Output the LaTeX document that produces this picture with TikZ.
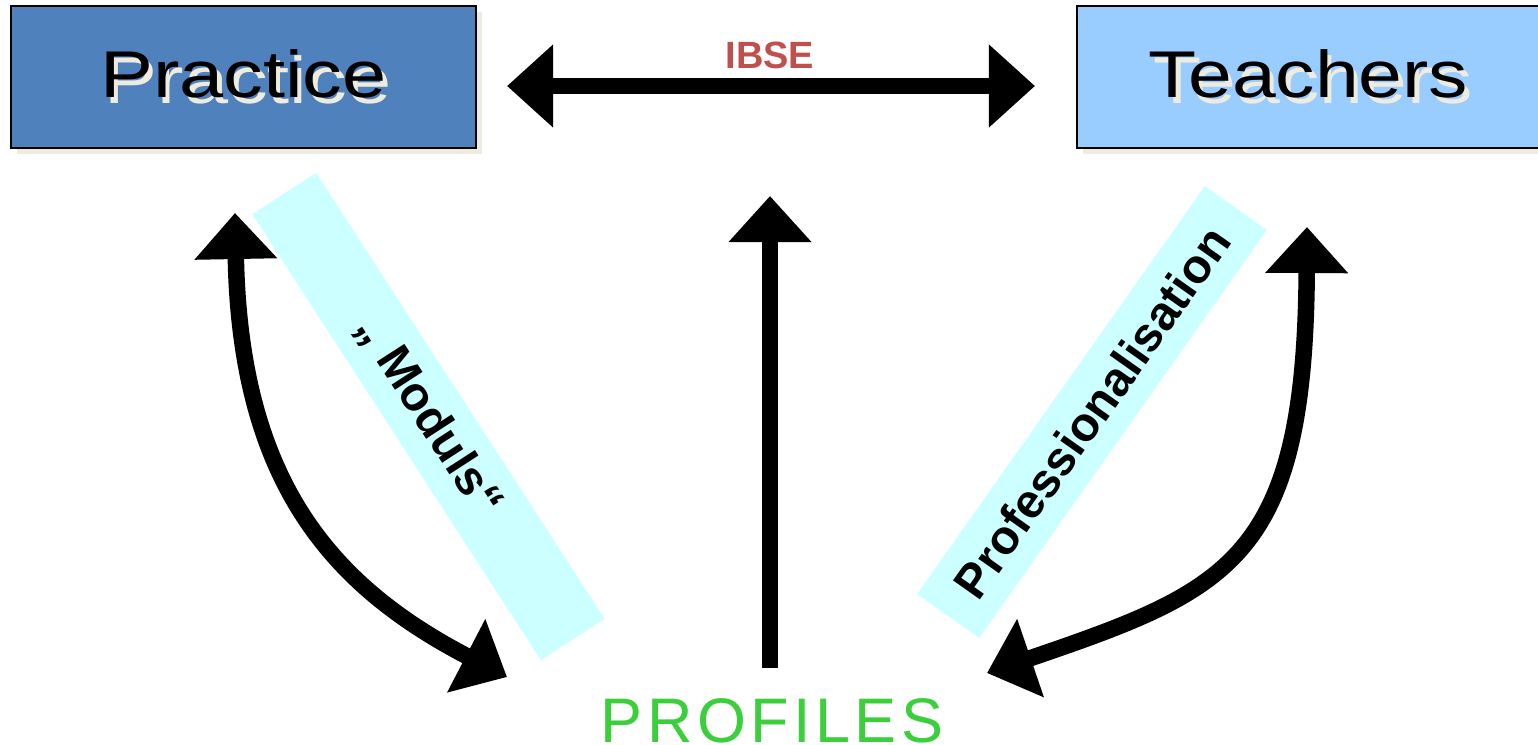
\documentclass[tikz,border=0pt]{standalone}
\usepackage{graphicx}
\usepackage{fontspec}
\setmainfont{Liberation Sans}
\usetikzlibrary{arrows.meta,shadows}
\definecolor{pracblue}{HTML}{4F81BD}
\definecolor{teachblue}{HTML}{99CCFF}
\definecolor{barcyan}{HTML}{CCFFFF}
\definecolor{ibsered}{HTML}{C0504D}
\definecolor{profgreen}{HTML}{3CCF3C}
\definecolor{shadowbeige}{HTML}{EEECE1}
\newcommand{\shadowtext}[1]{\makebox[0pt][l]{\hspace{0.045cm}\raisebox{-0.055cm}{\textcolor{shadowbeige}{#1}}}#1}
\tikzset{
  topbox/.style={rectangle, draw=black, line width=0.6pt, minimum height=1.42cm, inner sep=0pt,
    font=\fontsize{18.8}{22}\selectfont,
    drop shadow={shadow xshift=0.06cm, shadow yshift=-0.06cm, fill=shadowbeige, opacity=1}},
  bar/.style={rectangle, fill=barcyan, inner sep=0pt, minimum height=0.76cm,
    font=\fontsize{13.6}{16}\selectfont\bfseries},
  bigarrow/.style={line width=0.165cm, -{Triangle[length=0.46cm, width=0.8cm]}},
  twoarrow/.style={line width=0.165cm, {Triangle[length=0.46cm, width=0.8cm]}-{Triangle[length=0.46cm, width=0.8cm]}}
}
\begin{document}
\begin{tikzpicture}[x=0.01cm, y=-0.01cm]
\useasboundingbox (0,0) rectangle (1538,745);
% label bars
\node [bar, rotate=-57.1, minimum width=5.31cm](ModBar) at (428.5,416.5){„ Moduls“};
\node [bar, rotate=54.8, minimum width=4.99cm](ProfBar) at (1092,412){Professionalisation};
% boxes and texts
\node [topbox, fill=pracblue, minimum width=4.65cm](Prac) at (243.5,77){\shadowtext{\scalebox{1.2}[1]{Practice}}};
\node [topbox, fill=teachblue, minimum width=4.63cm](Teach) at (1308.5,77){\shadowtext{\scalebox{1.19}[1]{Teachers}}};
\node [text=ibsered, font=\fontsize{10.8}{13}\selectfont\bfseries](IBSE) at (770,55){IBSE};
\node [text=profgreen, anchor=base, font=\fontsize{17.9}{21}\selectfont\addfontfeature{LetterSpace=7}](Prof) at (772,742){PROFILES};
% arrows
\coordinate (hL) at (507,86);
\coordinate (hR) at (1035,86);
\coordinate (vB) at (770,668);
\coordinate (vT) at (770,196);
\coordinate (lT) at (235,213);
\coordinate (lB) at (507,677);
\coordinate (rT) at (1307,227);
\coordinate (rB) at (987,673);
\draw [twoarrow](hL) -- (hR);
\draw [bigarrow](vB) -- (vT);
\draw [twoarrow](lT) .. controls (240,480) and (330,585) .. (lB);
\draw [twoarrow](rT) .. controls (1305,560) and (1230,590) .. (rB);
\end{tikzpicture}
\end{document}
